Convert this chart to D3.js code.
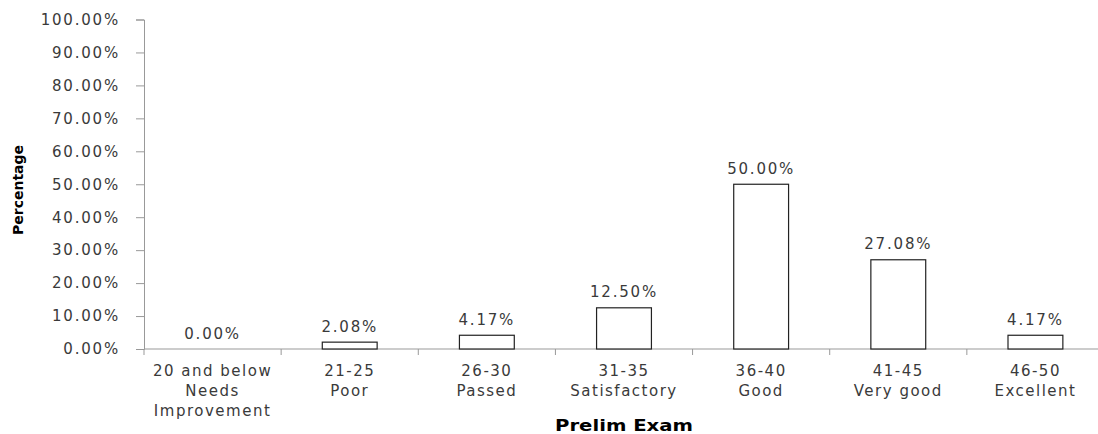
<!DOCTYPE html>
<html>
<head>
<meta charset="utf-8">
<script src="https://cdn.jsdelivr.net/npm/d3@7"></script>
<style>
  body { margin: 0; background: #fff; }
  svg text { font-family: "DejaVu Sans", sans-serif; }
</style>
</head>
<body>
<div class="chart"></div>
<script>
// Prelim exam grade distribution
var rangeLabels = ["20 and below", "21-25", "26-30", "31-35", "36-40", "41-45", "46-50"];
var ratingLabels = [["Needs", "Improvement"], ["Poor"], ["Passed"], ["Satisfactory"], ["Good"], ["Very good"], ["Excellent"]];
var percentages = [0.00, 2.08, 4.17, 12.50, 50.00, 27.08, 4.17];
var yTicks = [0, 10, 20, 30, 40, 50, 60, 70, 80, 90, 100];

var svgWidth = 1098;
var svgHeight = 434;
var margin = { left: 144, top: 19.5, bottom: 349, right: 1104 };
var textColor = "#3a3a3a";
var axisColor = "#999";

var svg = d3.select(".chart")
    .append("svg")
    .attr("width", svgWidth)
    .attr("height", svgHeight);

var xScale = d3.scaleBand()
    .domain(rangeLabels)
    .range([margin.left, margin.right])
    .padding(0);
var yScale = d3.scaleLinear()
    .domain([0, 100])
    .range([margin.bottom, margin.top]);

var bw = xScale.bandwidth();
var barW = bw * 0.4;

// y axis
var leftAxis = d3.axisLeft(yScale)
    .tickValues(yTicks)
    .tickFormat(function(d) { return d.toFixed(2) + "%"; })
    .tickSizeOuter(0)
    .tickSize(8)
    .tickPadding(16);
var gy = svg.append("g")
    .attr("transform", "translate(" + margin.left + ",0)")
    .call(leftAxis);
gy.selectAll("path, line").attr("stroke", axisColor);
gy.selectAll("text")
    .attr("font-family", "DejaVu Sans, sans-serif")
    .attr("font-size", "15px")
    .attr("letter-spacing", "1.8px")
    .attr("fill", textColor);

// x axis line and boundary ticks
svg.append("line")
    .attr("x1", margin.left).attr("x2", margin.right)
    .attr("y1", margin.bottom).attr("y2", margin.bottom)
    .attr("stroke", axisColor);
svg.selectAll(".xtick")
    .data(rangeLabels)
    .enter()
    .append("line")
    .attr("class", "xtick")
    .attr("x1", function(d) { return xScale(d); })
    .attr("x2", function(d) { return xScale(d); })
    .attr("y1", margin.bottom)
    .attr("y2", margin.bottom + 6)
    .attr("stroke", axisColor);

// bars
svg.selectAll(".bar")
    .data(percentages)
    .enter()
    .append("rect")
    .attr("class", "bar")
    .attr("x", function(d, i) { return xScale(rangeLabels[i]) + (bw - barW) / 2; })
    .attr("y", function(d) { return yScale(d); })
    .attr("width", barW)
    .attr("height", function(d) { return yScale(0) - yScale(d); })
    .attr("fill", "#fff")
    .attr("stroke", "#222")
    .attr("stroke-width", 1.2);

// value labels
svg.selectAll(".val")
    .data(percentages)
    .enter()
    .append("text")
    .attr("class", "val")
    .attr("x", function(d, i) { return xScale(rangeLabels[i]) + bw / 2; })
    .attr("y", function(d) { return yScale(d) - 10.5; })
    .attr("text-anchor", "middle")
    .attr("font-size", "15px")
    .attr("letter-spacing", "1.8px")
    .attr("fill", textColor)
    .text(function(d) { return d.toFixed(2) + "%"; });

// category labels
var catText = svg.selectAll(".cat")
    .data(rangeLabels)
    .enter()
    .append("text")
    .attr("class", "cat")
    .attr("text-anchor", "middle")
    .attr("font-size", "15px")
    .attr("letter-spacing", "1.5px")
    .attr("fill", textColor);
catText.each(function(d, i) {
    var t = d3.select(this);
    var cx = xScale(d) + bw / 2;
    var lines = [d].concat(ratingLabels[i]);
    lines.forEach(function(l, j) {
        t.append("tspan")
            .attr("x", cx)
            .attr("y", 376 + j * 20)
            .text(l);
    });
});

// axis titles
svg.append("text")
    .attr("x", 624)
    .attr("y", 431)
    .attr("text-anchor", "middle")
    .attr("font-family", "Liberation Sans, Arial, sans-serif")
    .attr("font-weight", "bold")
    .attr("font-size", "15px")
    .attr("textLength", 138)
    .attr("lengthAdjust", "spacingAndGlyphs")
    .attr("fill", "#000")
    .text("Prelim Exam");

svg.append("text")
    .attr("transform", "translate(23,190) rotate(-90)")
    .attr("text-anchor", "middle")
    .attr("font-family", "Liberation Sans Narrow, Liberation Sans, sans-serif")
    .attr("font-weight", "bold")
    .attr("font-size", "14px")
    .attr("fill", "#000")
    .text("Percentage");
</script>
</body>
</html>
